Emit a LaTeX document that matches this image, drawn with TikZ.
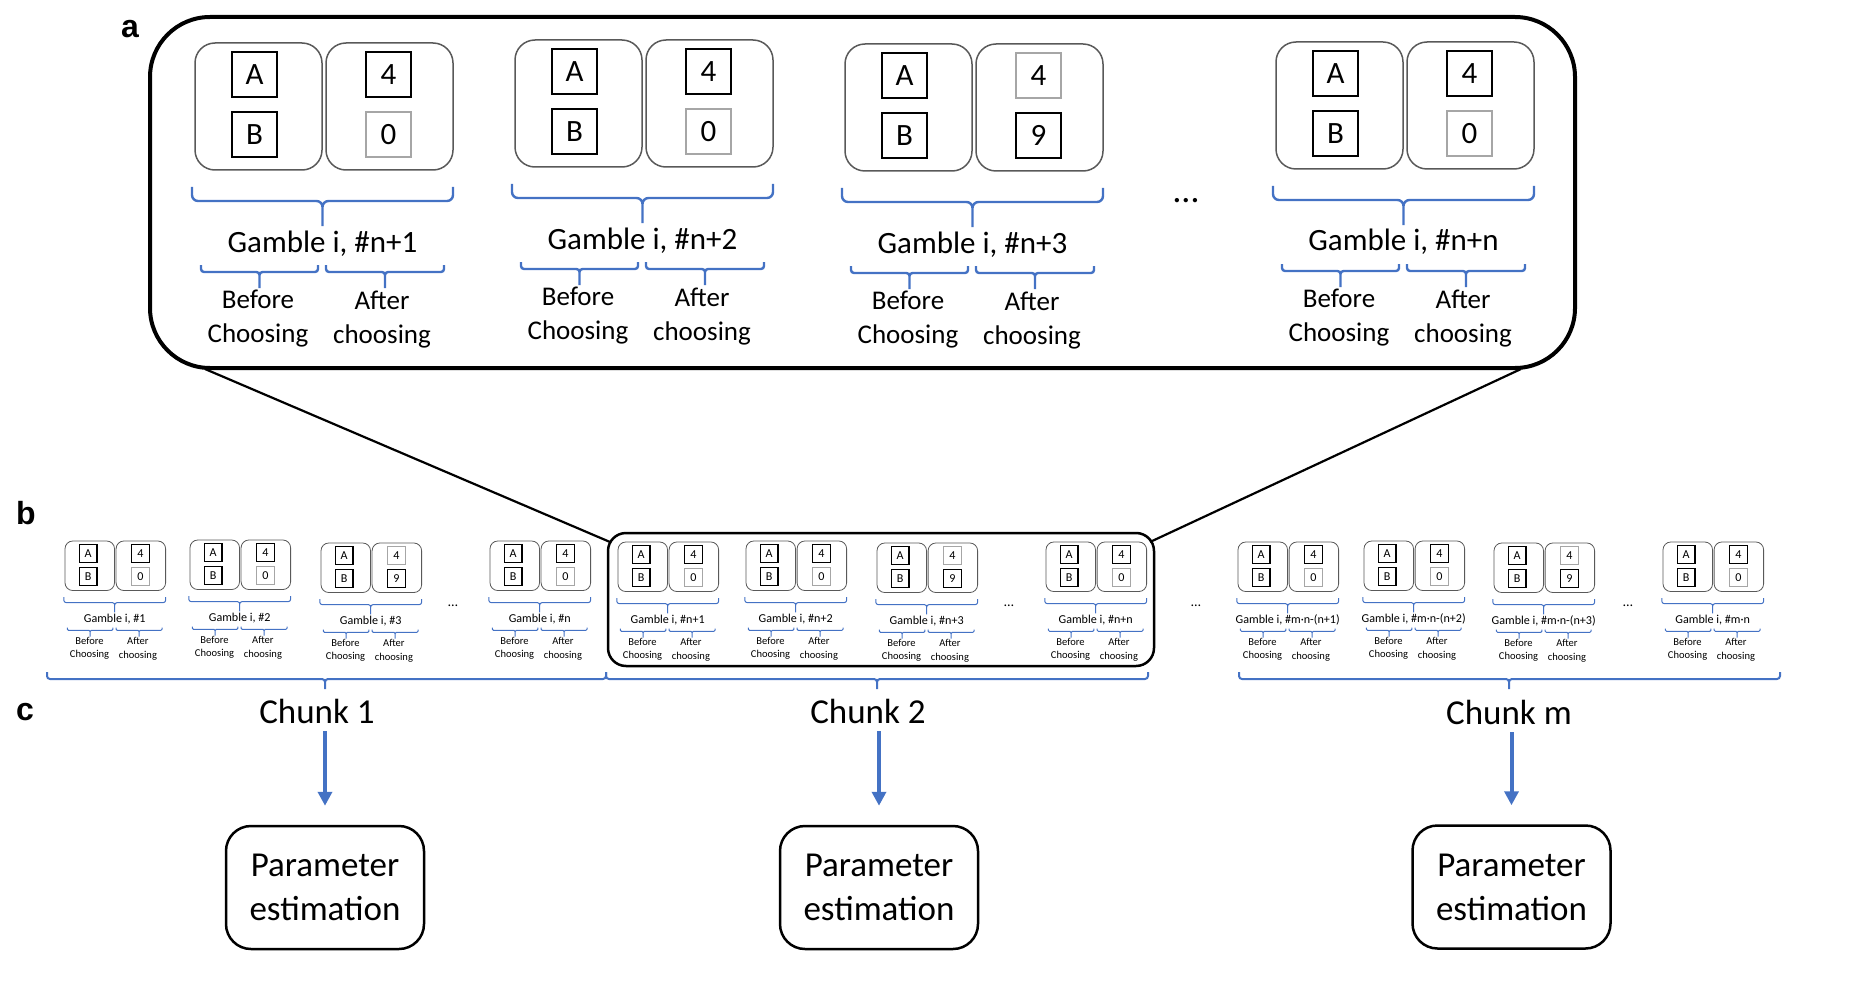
\documentclass[tikz,border=0pt]{standalone}
\usepackage{fontspec}
\setmainfont{Carlito}
\newfontfamily\labfont{Liberation Sans}
\usetikzlibrary{arrows.meta}
\definecolor{bl}{HTML}{4472C4}
\definecolor{bxg}{HTML}{595959}
\definecolor{sqg}{HTML}{A6A6A6}
\tikzset{
  gbox/.style={draw=bxg, minimum width=127pt, minimum height=127pt, inner sep=0pt},
  sq/.style={draw=black, minimum size=45pt, inner sep=0pt, font=\fontsize{31}{31}\selectfont},
  glab/.style={anchor=base, inner sep=0pt, font=\fontsize{31}{31}\selectfont},
  sublab/.style={anchor=base, inner sep=0pt, font=\fontsize{27}{27}\selectfont},
  bracestyle/.style={draw=bl},
  chunklab/.style={anchor=base, inner sep=0pt, outer sep=0pt, font=\fontsize{35}{35}\selectfont},
  pbox/.style={draw, line width=2.5pt, rounded corners=25pt, minimum width=198pt, minimum height=123pt, align=center, inner sep=0pt, font=\fontsize{35}{44}\selectfont},
  arr/.style={draw=bl, line width=4pt, -{Triangle[width=14pt,length=14pt]}, shorten <=8pt, shorten >=19pt},
  panellab/.style={anchor=base, inner sep=0pt, font=\labfont\bfseries\fontsize{32}{32}\selectfont},
  dotsbig/.style={anchor=base, inner sep=0pt, font=\fontsize{36}{36}\selectfont},
  dotssmall/.style={anchor=base, inner sep=0pt, font=\fontsize{14}{14}\selectfont},
  zoomline/.style={draw=black, line width=2.2pt}
}
% #1 name, #2 x0, #3 y0, #4 scale, #5 variant (0 or 9), #6 label suffix
\newcommand{\drawgamble}[6]{%
\pgfmathsetmacro\lwbox{max(0.8,1.5*#4)}%
\pgfmathsetmacro\lwsq{max(1.1,2.6*#4)}%
\pgfmathsetmacro\lwbr{max(1.0,2.4*#4)}%
\pgfmathsetmacro\rgb{20*#4}%
\pgfmathsetmacro\rbr{6*#4}%
\pgfmathsetmacro\rsb{3*#4}%
\begin{scope}[shift={(#2,#3)},scale=#4,transform shape]
\node[gbox,line width=\lwbox pt,rounded corners=\rgb pt] (#1-b) at (63.5,63.5) {};
\node[gbox,line width=\lwbox pt,rounded corners=\rgb pt] (#1-a) at (194.5,63.5) {};
\node[sq,line width=\lwsq pt] (#1-A) at (59.5,31.5) {A};
\node[sq,line width=\lwsq pt] (#1-B) at (59.5,91.5) {B};
\ifnum#5=9
\node[sq,draw=sqg,line width=\lwsq pt] (#1-t) at (193.5,31.5) {4};
\node[sq,line width=\lwsq pt] (#1-u) at (193.5,91.5) {9};
\else
\node[sq,line width=\lwsq pt] (#1-t) at (193.5,31.5) {4};
\node[sq,draw=sqg,line width=\lwsq pt] (#1-u) at (193.5,91.5) {0};
\fi
\draw[bracestyle,line width=\lwbr pt,rounded corners=\rbr pt]
  (-3,144) -- (-3,158) -- (127.5,158) -- (127.5,183)
  (258,144) -- (258,158) -- (127.5,158) -- (127.5,183);
\node[glab] (#1-lab) at (127.5,209) {Gamble i, \##6};
\draw[bracestyle,line width=\lwbr pt,rounded corners=\rsb pt]
  (6,222) -- (6,229) -- (64.5,229) -- (64.5,245)
  (123,222) -- (123,229) -- (64.5,229) -- (64.5,245)
  (131,222) -- (131,229) -- (190,229) -- (190,245)
  (249,222) -- (249,229) -- (190,229) -- (190,245);
\node[sublab] (#1-bf) at (63,265) {Before};
\node[sublab] (#1-bc) at (63,299) {Choosing};
\node[sublab] (#1-af) at (187,266) {After};
\node[sublab] (#1-ac) at (187,300) {choosing};
\end{scope}}
\begin{document}
\begin{tikzpicture}[x=1pt,y=-1pt]
\useasboundingbox (0,0) rectangle (1868,987);
% panel labels
\node[panellab] (la) at (130,38) {a};
\node[panellab] (lb) at (26,524) {b};
\node[panellab] (lc) at (25,720) {c};
% big zoom panel
\node[draw, line width=4pt, rounded corners=60pt, minimum width=1425pt, minimum height=351pt, inner sep=0pt] (pa) at (862.5,192.5) {};
\drawgamble{G1}{195}{43}{1}{0}{n+1}
\drawgamble{G2}{515}{40}{1}{0}{n+2}
\drawgamble{G3}{845}{44}{1}{9}{n+3}
\drawgamble{G4}{1276}{42}{1}{0}{n+n}
\node[dotsbig] (d0) at (1186,203) {…};
% chunk 2 frame
\node[draw, line width=2.5pt, rounded corners=18pt, minimum width=546pt, minimum height=133pt, inner sep=0pt] (pb) at (881,599.5) {};
\coordinate (pal) at (205,369);
\coordinate (pbl) at (610,542);
\coordinate (par) at (1521,369);
\coordinate (pbr) at (1150,542);
\draw[zoomline] (pal) -- (pbl);
\draw[zoomline] (par) -- (pbr);
% row b: chunk 1
\drawgamble{a1}{65}{541}{0.39}{0}{1}
\drawgamble{a2}{190}{540}{0.39}{0}{2}
\drawgamble{a3}{321}{543}{0.39}{9}{3}
\drawgamble{a4}{490}{541}{0.39}{0}{n}
\node[dotssmall] (d1) at (453,606) {…};
% chunk 2
\drawgamble{b1}{618}{542}{0.39}{0}{n+1}
\drawgamble{b2}{746}{541}{0.39}{0}{n+2}
\drawgamble{b3}{877}{543}{0.39}{9}{n+3}
\drawgamble{b4}{1046}{542}{0.39}{0}{n+n}
\node[dotssmall] (d2) at (1009,606) {…};
\node[dotssmall] (d3) at (1196,606) {…};
% chunk m
\drawgamble{m1}{1238}{542}{0.39}{0}{m·n-(n+1)}
\drawgamble{m2}{1364}{541}{0.39}{0}{m·n-(n+2)}
\drawgamble{m3}{1494}{543}{0.39}{9}{m·n-(n+3)}
\drawgamble{m4}{1663}{542}{0.39}{0}{m·n}
\node[dotssmall] (d4) at (1628,606) {…};
% chunk braces
\draw[bracestyle,line width=2pt,rounded corners=3pt]
  (47,672) -- (47,679) -- (325,679) -- (325,689)
  (606,672) -- (606,679) -- (325,679) -- (325,689);
\draw[bracestyle,line width=2pt,rounded corners=3pt]
  (606,672) -- (606,679) -- (877,679) -- (877,689)
  (1148,672) -- (1148,679) -- (877,679) -- (877,689);
\draw[bracestyle,line width=2pt,rounded corners=3pt]
  (1239,672) -- (1239,679) -- (1509,679) -- (1509,689)
  (1780,672) -- (1780,679) -- (1509,679) -- (1509,689);
% chunk labels, arrows, parameter boxes
\node[chunklab] (c1) at (317,723) {Chunk 1};
\node[chunklab] (c2) at (868,723) {Chunk 2};
\node[chunklab] (cm) at (1509,724) {Chunk m};
\node[pbox] (p1) at (325,887.5) {Parameter\\estimation};
\node[pbox] (p2) at (879,887.5) {Parameter\\estimation};
\node[pbox] (pm) at (1511.5,887) {Parameter\\estimation};
\draw[arr] (c1.south -| p1.north) -- (p1.north);
\draw[arr] (c2.south -| p2.north) -- (p2.north);
\draw[arr] (cm.south -| pm.north) -- (pm.north);
\end{tikzpicture}
\end{document}
